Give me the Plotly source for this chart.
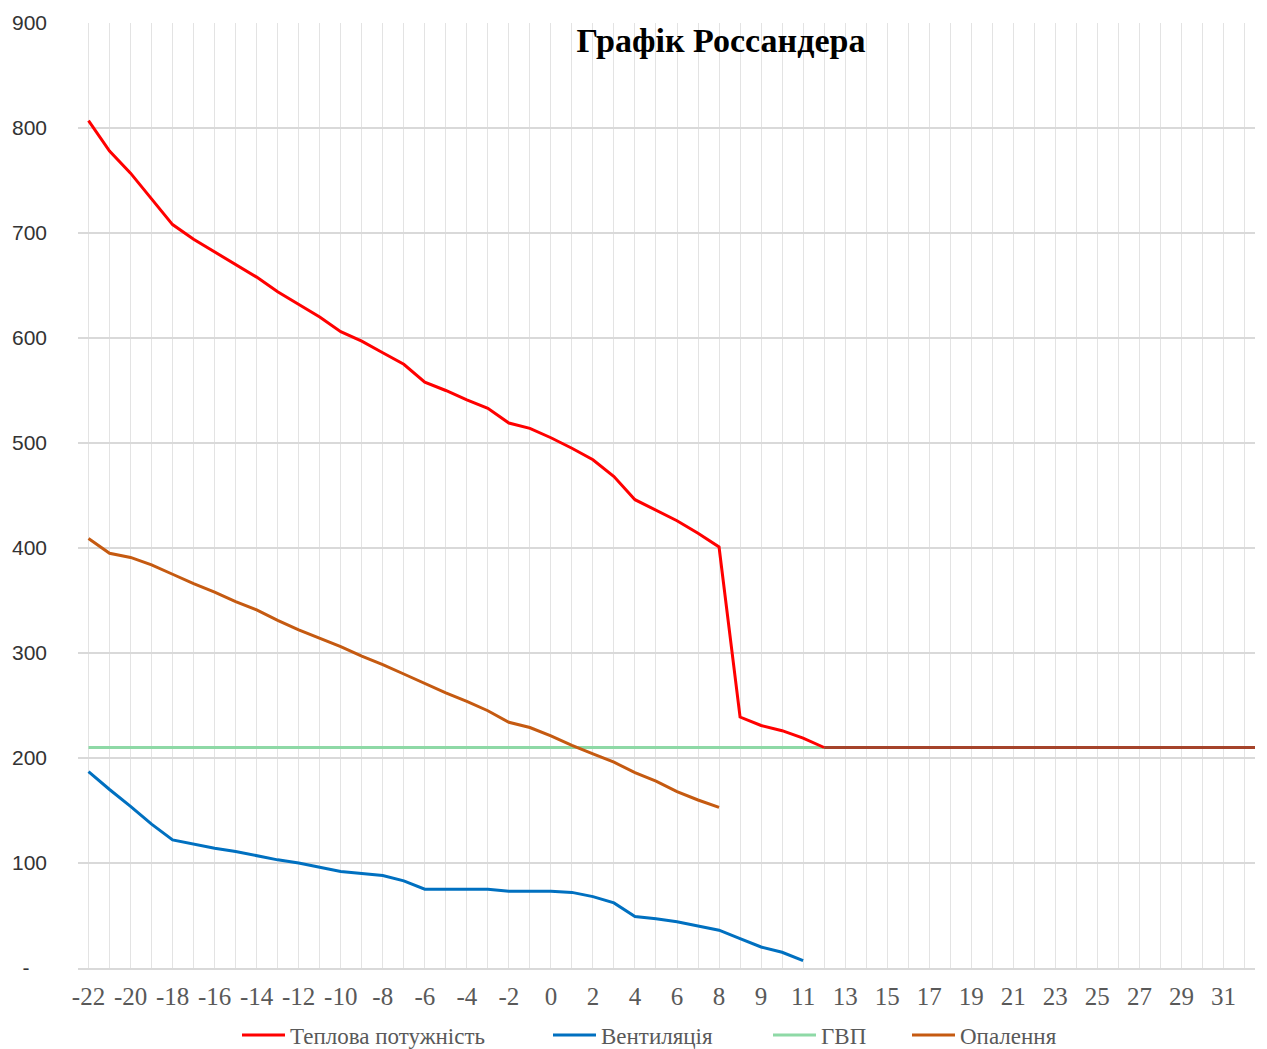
import plotly.graph_objects as go

categories = ['-22', '-21', '-20', '-19', '-18', '-17', '-16', '-15', '-14', '-13',
              '-12', '-11', '-10', '-9', '-8', '-7', '-6', '-5', '-4', '-3',
              '-2', '-1', '0', '1', '2', '3', '4', '5', '6', '7', '8', '8',
              '9', '10', '11', '12', '13', '14', '15', '16', '17', '18', '19',
              '20', '21', '22', '23', '24', '25', '26', '27', '28', '29', '30',
              '31', '32', '33']

teplova = [807, 778, 757, 732, 708, 694, 682, 670, 658, 644,
           632, 620, 606, 597, 586, 575, 558, 550, 541, 533,
           519, 514, 505, 495, 484, 468, 446, 436, 426, 414, 401, 239,
           231, 226, 219, 210]
teplova_tail = [210, 210, 210, 210, 210, 210, 210, 210, 210, 210, 210,
                210, 210, 210, 210, 210, 210, 210, 210, 210, 210, 210]
ventyl = [187, 170, 154, 137, 122, 118, 114, 111, 107, 103,
          100, 96, 92, 90, 88, 83, 75, 75, 75, 75,
          73, 73, 73, 72, 68, 62, 49, 47, 44, 40, 36, 28,
          20, 15, 7]
gvp = [210, 210, 210, 210, 210, 210, 210, 210, 210, 210,
       210, 210, 210, 210, 210, 210, 210, 210, 210, 210,
       210, 210, 210, 210, 210, 210, 210, 210, 210, 210, 210, 210,
       210, 210, 210, 210, 210, 210, 210, 210, 210, 210, 210,
       210, 210, 210, 210, 210, 210, 210, 210, 210, 210, 210,
       210, 210, 210]
opalennya = [409, 395, 391, 384, 375, 366, 358, 349, 341, 331,
             322, 314, 306, 297, 289, 280, 271, 262, 254, 245,
             234, 229, 221, 212, 204, 196, 186, 178, 168, 160, 153]

y_ticks = [0, 100, 200, 300, 400, 500, 600, 700, 800, 900]
y_labels = ['-\u00a0\u00a0\u00a0', '100', '200', '300', '400', '500', '600', '700', '800', '900']

idx = list(range(len(categories)))
tick_text = [c if i % 2 == 0 else '' for i, c in enumerate(categories)]

fig = go.Figure()
fig.add_trace(go.Scatter(x=idx[:len(gvp)], y=gvp, mode='lines', name='ГВП',
                         line=dict(color='#8ED9A6', width=3), legend='legend3'))
fig.add_trace(go.Scatter(x=idx[:len(opalennya)], y=opalennya, mode='lines', name='Опалення',
                         line=dict(color='#C55A11', width=3), legend='legend4'))
fig.add_trace(go.Scatter(x=idx[:len(ventyl)], y=ventyl, mode='lines', name='Вентиляція',
                         line=dict(color='#0070C0', width=3), legend='legend2'))
start = len(teplova) - 1
fig.add_trace(go.Scatter(x=idx[start:start + len(teplova_tail)], y=teplova_tail, mode='lines',
                         showlegend=False, line=dict(color='#A5432A', width=3)))
fig.add_trace(go.Scatter(x=idx[:len(teplova)], y=teplova, mode='lines', name='Теплова потужність',
                         line=dict(color='#FF0000', width=3), legend='legend'))

plot_l, plot_r = 78, 1255
plot_w = plot_r - plot_l


def leg(px):
    return dict(orientation='h', x=(px - plot_l) / plot_w, xanchor='left',
                y=-0.071, yanchor='middle', itemwidth=43,
                bgcolor='rgba(0,0,0,0)', borderwidth=0,
                font=dict(family='Liberation Serif', size=23, color='#595959'))


fig.update_layout(
    width=1267, height=1049,
    paper_bgcolor='white', plot_bgcolor='white',
    margin=dict(l=plot_l, r=1267 - plot_r, t=23, b=81, autoexpand=False),
    title=dict(text='<b>Графік Россандера</b>', x=721 / 1267, xanchor='center',
               y=1 - 40 / 1049, yanchor='middle', yref='container', xref='container',
               font=dict(family='Liberation Serif', size=34, color='#000000')),
    legend=leg(237), legend2=leg(548), legend3=leg(768), legend4=leg(907),
    xaxis=dict(range=[-0.5, 55.5], tickmode='array', tickvals=idx, ticktext=tick_text,
               showgrid=True, gridcolor='#E3E3E3', gridwidth=1,
               showline=True, linecolor='#D9D9D9', linewidth=1.5,
               ticks='', ticklabelstandoff=5, zeroline=False, automargin=False,
               tickfont=dict(family='Liberation Serif', size=25, color='#595959')),
    yaxis=dict(range=[0, 900], tickmode='array', tickvals=y_ticks, ticktext=y_labels,
               showgrid=True, gridcolor='#D9D9D9', gridwidth=1.5, automargin=False,
               zeroline=False, showline=False, ticks='', ticklabelstandoff=30,
               tickfont=dict(family='Liberation Sans', size=21, color='#333333')),
)

fig.write_html('out.html', config={'displayModeBar': False},
               post_script="document.body.style.margin='0';document.body.style.overflow='hidden';")
